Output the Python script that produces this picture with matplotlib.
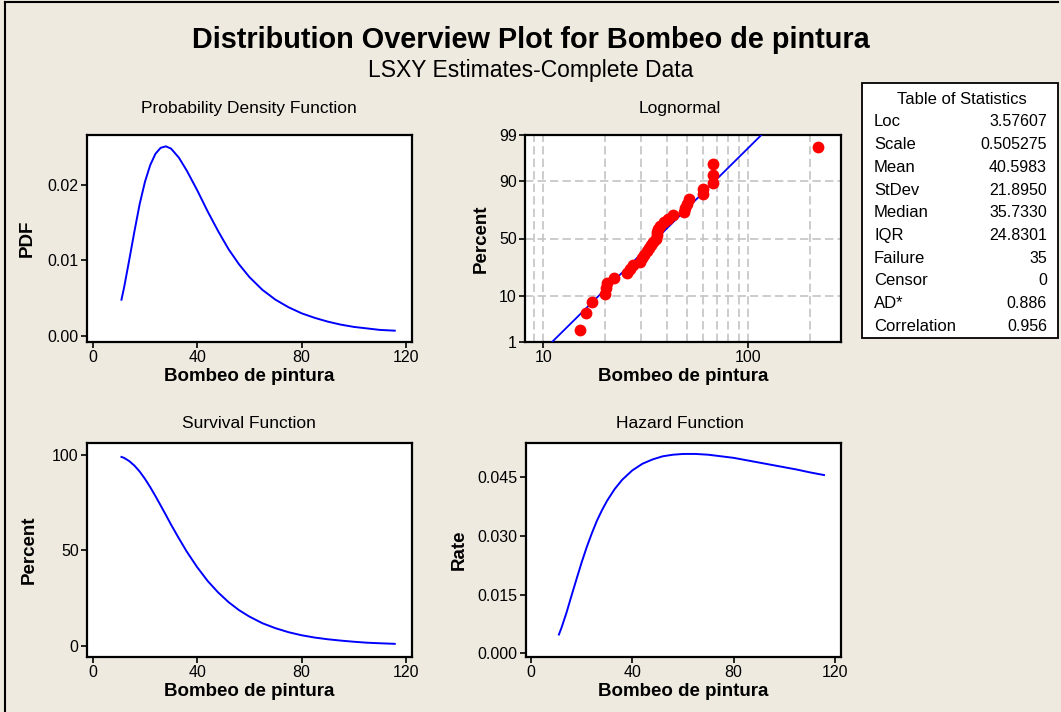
import numpy as np
import matplotlib
matplotlib.use("Agg")
import matplotlib.pyplot as plt
from matplotlib.lines import Line2D
from matplotlib.patches import Rectangle
from matplotlib.ticker import FixedLocator, NullFormatter
from statistics import NormalDist

# ---------------------------------------------------------------------------
# data
# ---------------------------------------------------------------------------
curve_x = [11.0, 12, 14, 16, 18, 20, 22, 24, 26, 28, 30, 33, 36, 40, 44, 48,
           52, 56, 60, 65, 70, 75, 80, 85, 90, 95, 100, 105, 110, 115.7]
pdf_vals = [0.0048, 0.0064, 0.0101, 0.0139, 0.0175, 0.0204, 0.0226, 0.0241,
            0.0249, 0.0251, 0.0248, 0.0236, 0.0219, 0.0193, 0.0165, 0.0139,
            0.0115, 0.0095, 0.0078, 0.0061, 0.0048, 0.0038, 0.0030, 0.0024,
            0.0019, 0.0015, 0.0012, 0.0010, 0.0008, 0.0007]
surv_vals = [99.0, 98.5, 96.8, 94.4, 91.3, 87.5, 83.2, 78.5, 73.6, 68.6, 63.5,
             56.3, 49.4, 41.2, 34.0, 28.0, 22.9, 18.7, 15.3, 11.8, 9.2, 7.1,
             5.5, 4.3, 3.4, 2.7, 2.1, 1.6, 1.3, 1.0]
haz_vals = [0.0048, 0.0065, 0.0104, 0.0148, 0.0191, 0.0233, 0.0272, 0.0307,
            0.0339, 0.0366, 0.0390, 0.0420, 0.0444, 0.0468, 0.0485, 0.0496,
            0.0504, 0.0508, 0.0510, 0.0510, 0.0508, 0.0504, 0.0500, 0.0494,
            0.0488, 0.0482, 0.0476, 0.0470, 0.0463, 0.0456]

# probability plot points (failure times, median-rank percents)
prob_x = [15.1, 16.2, 17.2, 20.0, 20.3, 20.4, 22.1, 25.7, 26.5, 27.3, 29.6,
          30.3, 31.0, 31.9, 32.6, 33.4, 34.3, 35.3, 35.9, 36.0, 36.1, 36.9,
          38.6, 40.7, 43.0, 48.3, 49.0, 50.2, 51.5, 59.8, 60.1, 66.9, 67.2,
          67.6, 218.0]
prob_pct = [1.98, 4.80, 7.63, 10.45, 13.28, 16.10, 18.93, 21.75, 24.58, 27.40,
            30.23, 33.05, 35.88, 38.70, 41.53, 44.35, 47.18, 50.00, 52.82,
            55.65, 58.47, 61.30, 64.12, 66.95, 69.77, 72.60, 75.42, 78.25,
            81.07, 83.90, 86.72, 89.55, 92.37, 95.20, 98.02]
fit_x = [11.03, 115.7]
fit_pct = [1.0, 99.0]

stat_names = ["Loc", "Scale", "Mean", "StDev", "Median", "IQR", "Failure",
              "Censor", "AD*", "Correlation"]
stat_values = ["3.57607", "0.505275", "40.5983", "21.8950", "35.7330",
               "24.8301", "35", "0", "0.886", "0.956"]

# ---------------------------------------------------------------------------
BG = "#EEEAE0"
BLUE = "#0000FF"
RED = "#FF0000"
GRID = "#C3C3C3"
FONT = "Liberation Sans"
plt.rcParams["font.family"] = FONT

W, H = 1061, 712
fig = plt.figure(figsize=(W / 100, H / 100), dpi=100, facecolor=BG)


def fx(px):
    return px / W


def fy(py):
    return 1 - py / H


def make_axes(l, t, r, b):
    ax = fig.add_axes([fx(l), fy(b), fx(r - l), (b - t) / H])
    ax.set_facecolor("white")
    for s in ax.spines.values():
        s.set_linewidth(1.6)
        s.set_color("black")
    ax.tick_params(direction="out", length=4, width=1.2, labelsize=11.5,
                   colors="black", pad=2)
    return ax


def xlabel(ax):
    ax.set_xlabel("Bombeo de pintura", fontsize=13.5, fontweight="bold",
                  labelpad=2)


def ylabel(ax, text, x):
    ax.set_ylabel(text, fontsize=13.5, fontweight="bold")
    ax.yaxis.set_label_coords(x, 0.5)


nd = NormalDist()
_ppf = np.vectorize(nd.inv_cdf, otypes=[float])
_cdf = np.vectorize(nd.cdf, otypes=[float])


def prob_fwd(p):
    p = np.clip(np.asarray(p, dtype=float) / 100.0, 1e-9, 1 - 1e-9)
    return _ppf(p)


def prob_inv(z):
    return _cdf(np.asarray(z, dtype=float)) * 100.0


# titles
fig.text(0.5, fy(40), "Distribution Overview Plot for Bombeo de pintura",
         ha="center", va="center", fontsize=20.8, fontweight="bold")
fig.text(0.5, fy(71), "LSXY Estimates-Complete Data", ha="center",
         va="center", fontsize=16.5)

# ---- PDF ----
ax1 = make_axes(87, 135, 412, 342)
ax1.plot(curve_x, pdf_vals, color=BLUE, lw=1.4)
ax1.set_xlim(-2.2, 122.3)
ax1.set_ylim(-0.0008, 0.0266)
ax1.set_xticks([0, 40, 80, 120])
ax1.set_yticks([0.0, 0.01, 0.02])
ax1.set_yticklabels(["0.00", "0.01", "0.02"])
xlabel(ax1)
ylabel(ax1, "PDF", -0.157)
fig.text(fx(249), fy(108), "Probability Density Function", ha="center",
         va="center", fontsize=12.5)

# ---- Lognormal probability plot ----
ax2 = make_axes(525, 135, 841, 342)
ax2.set_xscale("log")
ax2.set_yscale("function", functions=(prob_fwd, prob_inv))
ax2.set_xlim(8.14, 283)
ax2.set_ylim(1, 99)
ax2.xaxis.set_major_locator(FixedLocator([10, 100]))
ax2.xaxis.set_minor_locator(FixedLocator([9, 20, 30, 40, 50, 60, 70, 80, 90, 200]))
ax2.xaxis.set_minor_formatter(NullFormatter())
ax2.set_xticklabels(["10", "100"])
ax2.tick_params(axis="x", which="minor", length=0)
ax2.yaxis.set_major_locator(FixedLocator([1, 10, 50, 90, 99]))
ax2.yaxis.set_minor_locator(FixedLocator([]))
ax2.set_yticklabels(["1", "10", "50", "90", "99"])
ax2.grid(True, which="both", axis="x", color=GRID, lw=1.2, ls=(0, (5, 2.5)))
ax2.grid(True, which="major", axis="y", color=GRID, lw=1.2, ls=(0, (5, 2.5)))
ax2.set_axisbelow(True)
ax2.plot(fit_x, fit_pct, color=BLUE, lw=1.3, zorder=3)
ax2.plot(prob_x, prob_pct, "o", color=RED, ms=8.5, mec="none", zorder=4,
         clip_on=False)
xlabel(ax2)
ylabel(ax2, "Percent", -0.111)
fig.text(fx(680), fy(108), "Lognormal", ha="center", va="center",
         fontsize=12.5)

# ---- Survival ----
ax3 = make_axes(87, 443, 412, 657)
ax3.plot(curve_x, surv_vals, color=BLUE, lw=1.4)
ax3.set_xlim(-2.2, 122.3)
ax3.set_ylim(-5.9, 106.3)
ax3.set_xticks([0, 40, 80, 120])
ax3.set_yticks([0, 50, 100])
xlabel(ax3)
ylabel(ax3, "Percent", -0.151)
fig.text(fx(249), fy(424), "Survival Function", ha="center", va="center",
         fontsize=12.5)

# ---- Hazard ----
ax4 = make_axes(526, 443, 841, 657)
ax4.plot(curve_x, haz_vals, color=BLUE, lw=1.4)
ax4.set_xlim(-2.0, 122.4)
ax4.set_ylim(-0.00095, 0.0538)
ax4.set_xticks([0, 40, 80, 120])
ax4.set_yticks([0.0, 0.015, 0.030, 0.045])
ax4.set_yticklabels(["0.000", "0.015", "0.030", "0.045"])
xlabel(ax4)
ylabel(ax4, "Rate", -0.184)
fig.text(fx(680), fy(424), "Hazard Function", ha="center", va="center",
         fontsize=12.5)

# ---- table of statistics ----
fig.add_artist(Rectangle((fx(862), fy(338)), fx(1058 - 862), (338 - 83) / H,
                         transform=fig.transFigure, facecolor="white",
                         edgecolor="black", lw=1.3))
fig.text(fx(962), fy(100), "Table of Statistics", ha="center", va="center",
         fontsize=12)
for i, (name, val) in enumerate(zip(stat_names, stat_values)):
    yy = fy(122 + i * 22.7)
    fig.text(fx(874), yy, name, ha="left", va="center", fontsize=12)
    fig.text(fx(1047), yy, val, ha="right", va="center", fontsize=11.5)

# outer frame (left and top edges visible in the reference)
fig.add_artist(Line2D([fx(5), fx(5)], [0, fy(1.5)], transform=fig.transFigure,
                      color="black", lw=1.5))
fig.add_artist(Line2D([fx(5), fx(1058)], [fy(1.5), fy(1.5)],
                      transform=fig.transFigure, color="black", lw=1.5))

fig.savefig("out.png", dpi=100, facecolor=BG)
